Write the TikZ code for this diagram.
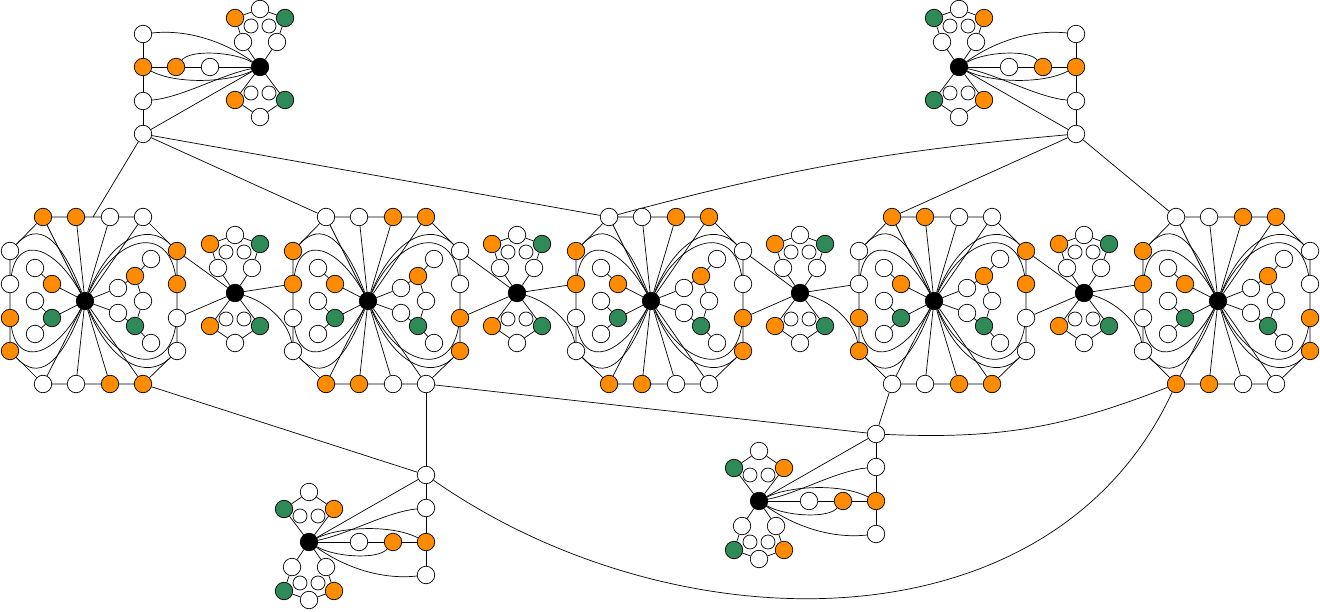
\documentclass[tikz,border=0pt]{standalone}
\definecolor{vorng}{HTML}{FF8C00}
\definecolor{vgrn}{HTML}{2E8B57}
\pgfdeclarelayer{bg}
\pgfsetlayers{bg,main}
\tikzset{
  vtx/.style={circle,draw=black,line width=0.7pt,minimum size=17.5pt,inner sep=0pt},
  vwhite/.style={vtx,fill=white},
  vorange/.style={vtx,fill=vorng},
  vgreen/.style={vtx,fill=vgrn},
  vblack/.style={vtx,fill=black},
  vsmall/.style={vtx,fill=white,minimum size=14pt},
  edge/.style={line width=0.7pt,draw=black},
}
% butterfly around a black node (k) at local origin
\newcommand{\bflybody}{%
  \node[vwhite] (la) at (-17,-25) {};
  \node[vwhite] (ra) at (17,-25) {};
  \node[vsmall] (ls) at (-9,-41) {};
  \node[vsmall] (rs) at (9,-41) {};
  \node[vorange] (lo) at (-25,-49) {};
  \node[vwhite] (tp) at (0,-58) {};
  \node[vgreen] (rg) at (25,-49) {};
  \node[vsmall] (lsb) at (-9,26) {};
  \node[vsmall] (rsb) at (9,26) {};
  \node[vorange] (lob) at (-25,33) {};
  \node[vgreen] (rgb) at (25,33) {};
  \node[vwhite] (bt) at (0,50) {};
  \begin{pgfonlayer}{bg}
  \draw[edge] (k)--(la)--(lo)--(tp)--(rg)--(ra)--(k);
  \draw[edge] (k)--(lob)--(bt)--(rgb)--(k);
  \end{pgfonlayer}
}
\newcommand{\midbfly}[3]{%
\begin{scope}[shift={(#2,#3)},name prefix=#1-]
  \node[vblack] (k) at (0,0) {};
  \bflybody
\end{scope}}
\newcommand{\cornergad}[4]{%
\begin{scope}[shift={(#2,#3)},#4,name prefix=#1-]
  \node[vblack] (k) at (0,0) {};
  \bflybody
  \node[vwhite] (h2) at (-50,0) {};
  \node[vorange] (h1) at (-84,0) {};
  \node[vorange] (c2) at (-117,0) {};
  \node[vwhite] (c1) at (-117,-33) {};
  \node[vwhite] (c3) at (-117,34) {};
  \node[vwhite] (hub) at (-117,67) {};
  \begin{pgfonlayer}{bg}
  \draw[edge] (c1)--(c2)--(c3)--(hub);
  \draw[edge] (c2)--(h1)--(h2)--(k);
  \draw[edge] (k)--(hub);
  \draw[edge] (k) .. controls +(-35,-25) and +(45,-5) .. (c1);
  \draw[edge] (k) .. controls +(-25,-15) and +(15,-18) .. (h1);
  \draw[edge] (k) .. controls +(-30,15) and +(35,18) .. (c2);
  \draw[edge] (k) .. controls +(-40,8) and +(40,-4) .. (c3);
  \end{pgfonlayer}
\end{scope}}
\newcommand{\biggad}[5]{%
\begin{scope}[shift={(#2,#3)},name prefix=#1-]
  \node[vblack] (c) at (0,0) {};
  \node[#4] (t1) at (-42,-84) {};
  \node[#4] (t2) at (-9,-84) {};
  \node[#5] (t3) at (25,-84) {};
  \node[#5] (t4) at (58,-84) {};
  \node[#4] (r1) at (92,-50) {};
  \node[#4] (r2) at (92,-17) {};
  \node[#5] (r3) at (92,17) {};
  \node[#5] (r4) at (92,50) {};
  \node[#5] (b1) at (-42,83) {};
  \node[#5] (b2) at (-9,83) {};
  \node[#4] (b3) at (25,83) {};
  \node[#4] (b4) at (58,83) {};
  \node[#5] (l1) at (-75,-50) {};
  \node[#5] (l2) at (-75,-17) {};
  \node[#4] (l3) at (-75,17) {};
  \node[#4] (l4) at (-75,50) {};
  \coordinate (tm) at (8,-84);
  \node[vwhite] (p1) at (-50,-33) {};
  \node[vorange] (p2) at (-33,-17) {};
  \node[vwhite] (p3) at (-50,0) {};
  \node[vgreen] (p4) at (-33,17) {};
  \node[vwhite] (p5) at (-50,33) {};
  \node[vwhite] (q1) at (66,-42) {};
  \node[vorange] (q2) at (50,-25) {};
  \node[vwhite] (q3) at (33,-13) {};
  \node[vwhite] (q4) at (58,0) {};
  \node[vwhite] (q5) at (33,12) {};
  \node[vgreen] (q6) at (50,25) {};
  \node[vwhite] (q7) at (66,42) {};
  \begin{pgfonlayer}{bg}
  \draw[edge] (t1)--(t2)--(t3)--(t4)--(r1)--(r2)--(r3)--(r4)--(b4)--(b3)--(b2)--(b1)--(l4)--(l3)--(l2)--(l1)--(t1);
  \draw[edge] (c)--(t1) (c)--(t2) (c)--(t3) (c)--(t4);
  \draw[edge] (c)--(b1) (c)--(b2) (c)--(b3) (c)--(b4);
  \draw[edge] (p1)--(p2)--(c);
  \draw[edge] (p3)--(p4)--(p5);
  \draw[edge] (p4)--(c);
  \draw[edge] (c)--(q3)--(q2)--(q1);
  \draw[edge] (q2)--(q4)--(q6);
  \draw[edge] (c)--(q5)--(q6)--(q7);
  \draw[edge] (c) .. controls +(-25,-65) and +(28,-30) .. (l1);
  \draw[edge] (c) .. controls +(-30,-55) and +(8,-50) .. (l2);
  \draw[edge] (c) .. controls +(-30,55) and +(8,50) .. (l3);
  \draw[edge] (c) .. controls +(-25,65) and +(28,30) .. (l4);
  \draw[edge] (c) .. controls +(25,-62) and +(-30,-30) .. (r1);
  \draw[edge] (c) .. controls +(30,-65) and +(-10,-60) .. (r2);
  \draw[edge] (c) .. controls +(30,65) and +(-10,60) .. (r3);
  \draw[edge] (c) .. controls +(25,62) and +(-30,30) .. (r4);
  \end{pgfonlayer}
\end{scope}}
\begin{document}
\begin{tikzpicture}[x=1pt,y=-1pt]
\path[use as bounding box] (0,0) rectangle (1320,612);
\biggad{g1}{85}{301}{vorange}{vwhite}
\biggad{g2}{368}{301}{vwhite}{vorange}
\biggad{g3}{651}{301}{vwhite}{vorange}
\biggad{g4}{934}{301}{vorange}{vwhite}
\biggad{g5}{1218}{301}{vwhite}{vorange}
\midbfly{m1}{235}{293}
\midbfly{m2}{517}{293}
\midbfly{m3}{800}{293}
\midbfly{m4}{1084}{293}
\cornergad{tl}{260}{67}{xscale=1}
\cornergad{tr}{959}{67}{xscale=-1}
\cornergad{bl}{309}{542}{xscale=-1,yscale=-1}
\cornergad{br}{759}{501}{xscale=-1,yscale=-1}
\begin{pgfonlayer}{bg}
\foreach \a/\b/\m in {g1/g2/m1,g2/g3/m2,g3/g4/m3,g4/g5/m4} {
  \draw[edge] (\m-k)--(\a-r1);
  \draw[edge] (\m-k)--(\a-r3);
  \draw[edge] (\m-k)--(\b-l2);
  \draw[edge] (\m-k) .. controls +(30,8) and +(-5,-30) .. (\b-l4);
}
\draw[edge] (tl-hub)--(g1-tm);
\draw[edge] (tl-hub)--(g2-t1);
\draw[edge] (tl-hub)--(g3-t1);
\draw[edge] (tr-hub) to[bend right=5] (g3-t1);
\draw[edge] (tr-hub)--(g4-t1);
\draw[edge] (tr-hub)--(g5-t1);
\draw[edge] (g1-b4)--(bl-hub);
\draw[edge] (g2-b4)--(bl-hub);
\draw[edge] (g2-b4)--(br-hub);
\draw[edge] (g4-b1)--(br-hub);
\draw[edge] (br-hub) to[bend right=12] (g5-b1);
\draw[edge] (bl-hub) to[out=-35,in=-115] (g5-b1);
\end{pgfonlayer}
\end{tikzpicture}
\end{document}
